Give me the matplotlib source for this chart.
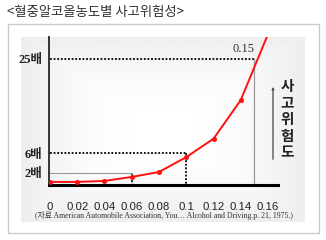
import numpy as np
import matplotlib
matplotlib.use("Agg")
import matplotlib.pyplot as plt
from matplotlib.patches import Rectangle

# data (relative accident risk, "배")
bac = [0, 0.02, 0.04, 0.06, 0.08, 0.1, 0.12, 0.14, 0.16]
risk = [0.2, 0.2, 0.4, 1.2, 2.2, 5.2, 8.9, 16.7, 30.0]
x_labels = ["0", "0.02", "0.04", "0.06", "0.08", "0.1", "0.12", "0.14", "0.16"]
y_ticks = [2, 6, 25]
y_labels = ["2배", "6배", "25배"]
title = "<혈중알코올농도별 사고위험성>"
source = "(자료 American Automobile Association, You… Alcohol and Driving.p. 21, 1975.)"

W, H = 326, 240
kr = ["Noto Sans CJK KR", "DejaVu Sans"]
serif_kr = ["Liberation Serif", "Noto Sans CJK KR"]


def fx(px):
    return px / W


def fy(py):
    return 1 - py / H


fig = plt.figure(figsize=(W / 100, H / 100), dpi=100)
fig.patch.set_facecolor("white")

# outer box
fig.patches.append(Rectangle((fx(8), fy(233)), fx(311), 209 / H, transform=fig.transFigure,
                             fill=False, edgecolor="#cccccc", lw=1))

# light gray panel behind the chart
bg = fig.add_axes([fx(21), fy(222), fx(284), 185 / H])
gx = np.linspace(-1, 1, 200)
gy = np.linspace(-1, 1, 150)
GX, GY = np.meshgrid(gx, gy)
shade = 1 - 0.07 * np.clip(np.maximum(np.abs(GX), np.abs(GY)) ** 2, 0, 1)
bg.imshow(shade, cmap="gray", vmin=0, vmax=1, aspect="auto", extent=[0, 1, 0, 1])
bg.axis("off")

fig.text(fx(7), fy(12), title, family=kr, fontsize=9.6, fontweight="medium",
         color="#333333", ha="left", va="center")

ax = fig.add_axes([fx(49), fy(185), fx(229), 148 / H])
ax.patch.set_alpha(0)
ax.set_xlim(-0.0007, 0.1673)
ax.set_ylim(-0.42, 29.4)

# guide lines
dot = dict(color="black", lw=1.3, linestyle=(0, (1, 1)))
ax.plot([0, 0.15], [25, 25], **dot)
ax.plot([0, 0.1], [6, 6], **dot)
ax.plot([0.1, 0.1], [6, -0.42], **dot)
ax.plot([0.06, 0.06], [2, -0.42], **dot)
ax.plot([0, 0.06], [2, 2], color="#999999", lw=0.8)
ax.plot([0.15, 0.15], [25, -0.42], color="#999999", lw=0.9)
ax.text(0.15, 25.8, "0.15", family="Liberation Serif", fontsize=9, color="#333333",
        ha="right", va="bottom")

ax.plot(bac, risk, color="#ff1010", lw=1.4, marker="o", markersize=2.6, zorder=5)

for s in ["top", "right"]:
    ax.spines[s].set_visible(False)
ax.spines["left"].set_color("#333333")
ax.spines["left"].set_linewidth(1.4)
ax.spines["bottom"].set_color("black")
ax.spines["bottom"].set_linewidth(2.2)

ax.set_xticks(bac, x_labels, family="Liberation Sans", fontsize=8.2, color="#222222")
ax.set_yticks(y_ticks, y_labels, family=serif_kr, fontsize=9, fontweight="bold",
              color="#222222")
ax.tick_params(axis="x", length=0, pad=12)
ax.tick_params(axis="y", length=0, pad=5)

# risk arrow and vertical label
ax.annotate("", xy=(fx(273), fy(84)), xytext=(fx(273), fy(162)),
            xycoords="figure fraction", textcoords="figure fraction",
            arrowprops=dict(arrowstyle="-|>", color="#555555", lw=1, mutation_scale=3))
fig.text(fx(287), fy(119), "사\n고\n위\n험\n도", family=kr, fontsize=10.5, fontweight="bold",
         color="#222222", ha="center", va="center", linespacing=1.05)

fig.text(fx(164), fy(216), source, family=serif_kr, fontsize=5.6, color="#333333",
         ha="center", va="center")

fig.savefig("out.png", dpi=100)
